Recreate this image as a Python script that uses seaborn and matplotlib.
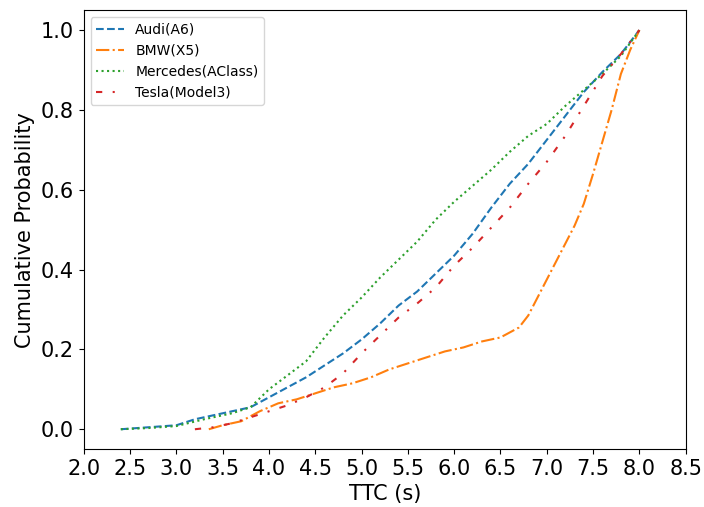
import numpy as np
import pandas as pd
import matplotlib
matplotlib.use("Agg")
import matplotlib.pyplot as plt
import seaborn as sns

audi_x = [2.4, 2.7, 3.0, 3.2, 3.4, 3.6, 3.8, 4.0, 4.2, 4.4, 4.6, 4.8, 5.0, 5.2, 5.4, 5.6, 5.8, 6.0, 6.2, 6.4, 6.6, 6.8, 7.0, 7.2, 7.4, 7.6, 7.8, 8.0]
audi_y = [0.0, 0.005, 0.01, 0.025, 0.035, 0.045, 0.055, 0.08, 0.105, 0.13, 0.16, 0.19, 0.225, 0.265, 0.31, 0.345, 0.39, 0.435, 0.49, 0.555, 0.615, 0.665, 0.725, 0.785, 0.845, 0.895, 0.94, 1.0]

bmw_x = [3.35, 3.5, 3.7, 3.9, 4.1, 4.3, 4.5, 4.7, 4.9, 5.1, 5.3, 5.5, 5.7, 5.9, 6.1, 6.3, 6.5, 6.7, 6.8, 6.9, 7.0, 7.1, 7.2, 7.3, 7.4, 7.5, 7.6, 7.7, 7.8, 7.9, 8.0]
bmw_y = [0.0, 0.01, 0.02, 0.045, 0.065, 0.075, 0.09, 0.105, 0.115, 0.13, 0.15, 0.165, 0.18, 0.195, 0.205, 0.22, 0.23, 0.255, 0.285, 0.33, 0.375, 0.42, 0.465, 0.51, 0.565, 0.64, 0.72, 0.8, 0.89, 0.95, 1.0]

merc_x = [2.4, 2.7, 3.0, 3.3, 3.6, 3.8, 4.0, 4.2, 4.4, 4.6, 4.8, 5.0, 5.2, 5.4, 5.6, 5.8, 6.0, 6.2, 6.4, 6.6, 6.8, 7.0, 7.2, 7.4, 7.6, 7.8, 8.0]
merc_y = [0.0, 0.003, 0.008, 0.025, 0.04, 0.055, 0.1, 0.135, 0.17, 0.23, 0.285, 0.33, 0.38, 0.425, 0.47, 0.525, 0.57, 0.61, 0.65, 0.695, 0.735, 0.765, 0.81, 0.85, 0.89, 0.935, 1.0]

tesla_x = [3.2, 3.4, 3.6, 3.8, 4.0, 4.2, 4.4, 4.6, 4.8, 5.0, 5.2, 5.4, 5.6, 5.8, 6.0, 6.2, 6.4, 6.6, 6.8, 7.0, 7.2, 7.4, 7.6, 7.8, 8.0]
tesla_y = [0.0, 0.005, 0.015, 0.03, 0.045, 0.06, 0.08, 0.105, 0.14, 0.19, 0.235, 0.28, 0.315, 0.355, 0.41, 0.455, 0.505, 0.555, 0.615, 0.67, 0.735, 0.81, 0.885, 0.94, 1.0]

labels = ["Audi(A6)", "BMW(X5)", "Mercedes(AClass)", "Tesla(Model3)"]
xs = [audi_x, bmw_x, merc_x, tesla_x]
ys = [audi_y, bmw_y, merc_y, tesla_y]

rows = []
for lab, xx, yy in zip(labels, xs, ys):
    for a, b in zip(xx, yy):
        rows.append((lab, a, b))
df = pd.DataFrame(rows, columns=["car", "TTC", "prob"])

plt.rcParams['font.family'] = ['DejaVu Sans']

fig = plt.figure(figsize=(7.04, 5.07), dpi=100)
ax = fig.add_axes([0.119, 0.114, 0.855, 0.866])

palette = {labels[0]: "#1f77b4", labels[1]: "#ff7f0e", labels[2]: "#2ca02c", labels[3]: "#d62728"}
dashes = {labels[0]: (3.7, 1.6), labels[1]: (6.4, 1.6, 1, 1.6), labels[2]: (1, 1.65), labels[3]: (3, 5, 1, 5)}

sns.lineplot(data=df, x="TTC", y="prob", hue="car", style="car", palette=palette,
             dashes=dashes, sort=False, estimator=None, linewidth=1.5, ax=ax)

ax.set_xlim(2.0, 8.5)
ax.set_xticks(np.arange(2.0, 8.51, 0.5))
ax.set_ylim(-0.05, 1.05)
ax.set_yticks([0.0, 0.2, 0.4, 0.6, 0.8, 1.0])
ax.tick_params(labelsize=15)
ax.set_xlabel("TTC (s)", fontsize=15)
ax.set_ylabel("Cumulative Probability", fontsize=15)
leg = ax.legend(loc="upper left", fontsize=10, title=None)

fig.savefig("out.png", dpi=100)
